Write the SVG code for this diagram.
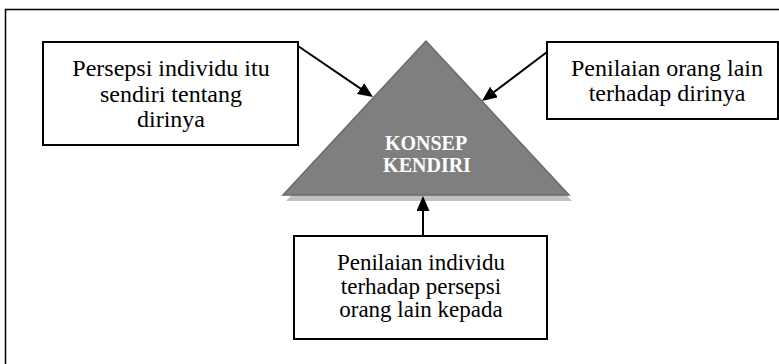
<svg xmlns="http://www.w3.org/2000/svg" width="779" height="364" viewBox="0 0 779 364">
<style>
.box{fill:#fff;stroke:#000;stroke-width:2}
.t{font-family:"Liberation Serif","Times New Roman",serif;font-size:24px;fill:#000;text-anchor:middle}
.b{font-size:23px}
.k{font-family:"Liberation Serif","Times New Roman",serif;font-size:20px;font-weight:bold;fill:#fff;text-anchor:middle}
.c{stroke:#000;stroke-width:2;fill:none;marker-end:url(#ah)}
</style>
<defs>
<marker id="ah" markerUnits="userSpaceOnUse" markerWidth="16" markerHeight="14" refX="12" refY="6.5" orient="auto">
<path d="M0,0 L15,6.5 L0,13 Z" fill="#000"/>
</marker>
</defs>
<rect x="0" y="0" width="779" height="364" fill="#fff"/>
<rect x="5.5" y="9.5" width="800" height="400" fill="none" stroke="#000" stroke-width="1.5"/>
<g id="konsep-kendiri">
<polygon points="429,47 286,201 572,201" fill="#c0c0c0"/>
<polygon points="426,41 283,195 569,195" fill="#7f7f7f" stroke="#6a6a6a" stroke-width="1.5"/>
<text class="k" x="426" y="150">KONSEP</text>
<text class="k" x="427" y="172">KENDIRI</text>
</g>
<g id="persepsi-individu">
<rect class="box" x="43" y="42" width="255" height="103"/>
<text class="t" x="171" y="76">Persepsi individu itu</text>
<text class="t" x="171" y="102">sendiri tentang</text>
<text class="t" x="171" y="127">dirinya</text>
</g>
<g id="penilaian-orang-lain">
<rect class="box" x="547" y="42" width="231" height="77"/>
<text class="t" x="667" y="76">Penilaian orang lain</text>
<text class="t" x="667" y="101">terhadap dirinya</text>
</g>
<g id="penilaian-individu">
<rect class="box" x="294" y="236" width="253" height="103"/>
<text class="t b" x="421" y="270">Penilaian individu</text>
<text class="t b" x="421" y="293.5">terhadap persepsi</text>
<text class="t b" x="421" y="317">orang lain kepada</text>
</g>
<g id="connectors">
<line class="c" x1="298" y1="46" x2="370.5" y2="95.3"/>
<line class="c" x1="547" y1="52" x2="484.4" y2="99.2"/>
<line class="c" x1="423" y1="236" x2="423" y2="199"/>
</g>
</svg>
